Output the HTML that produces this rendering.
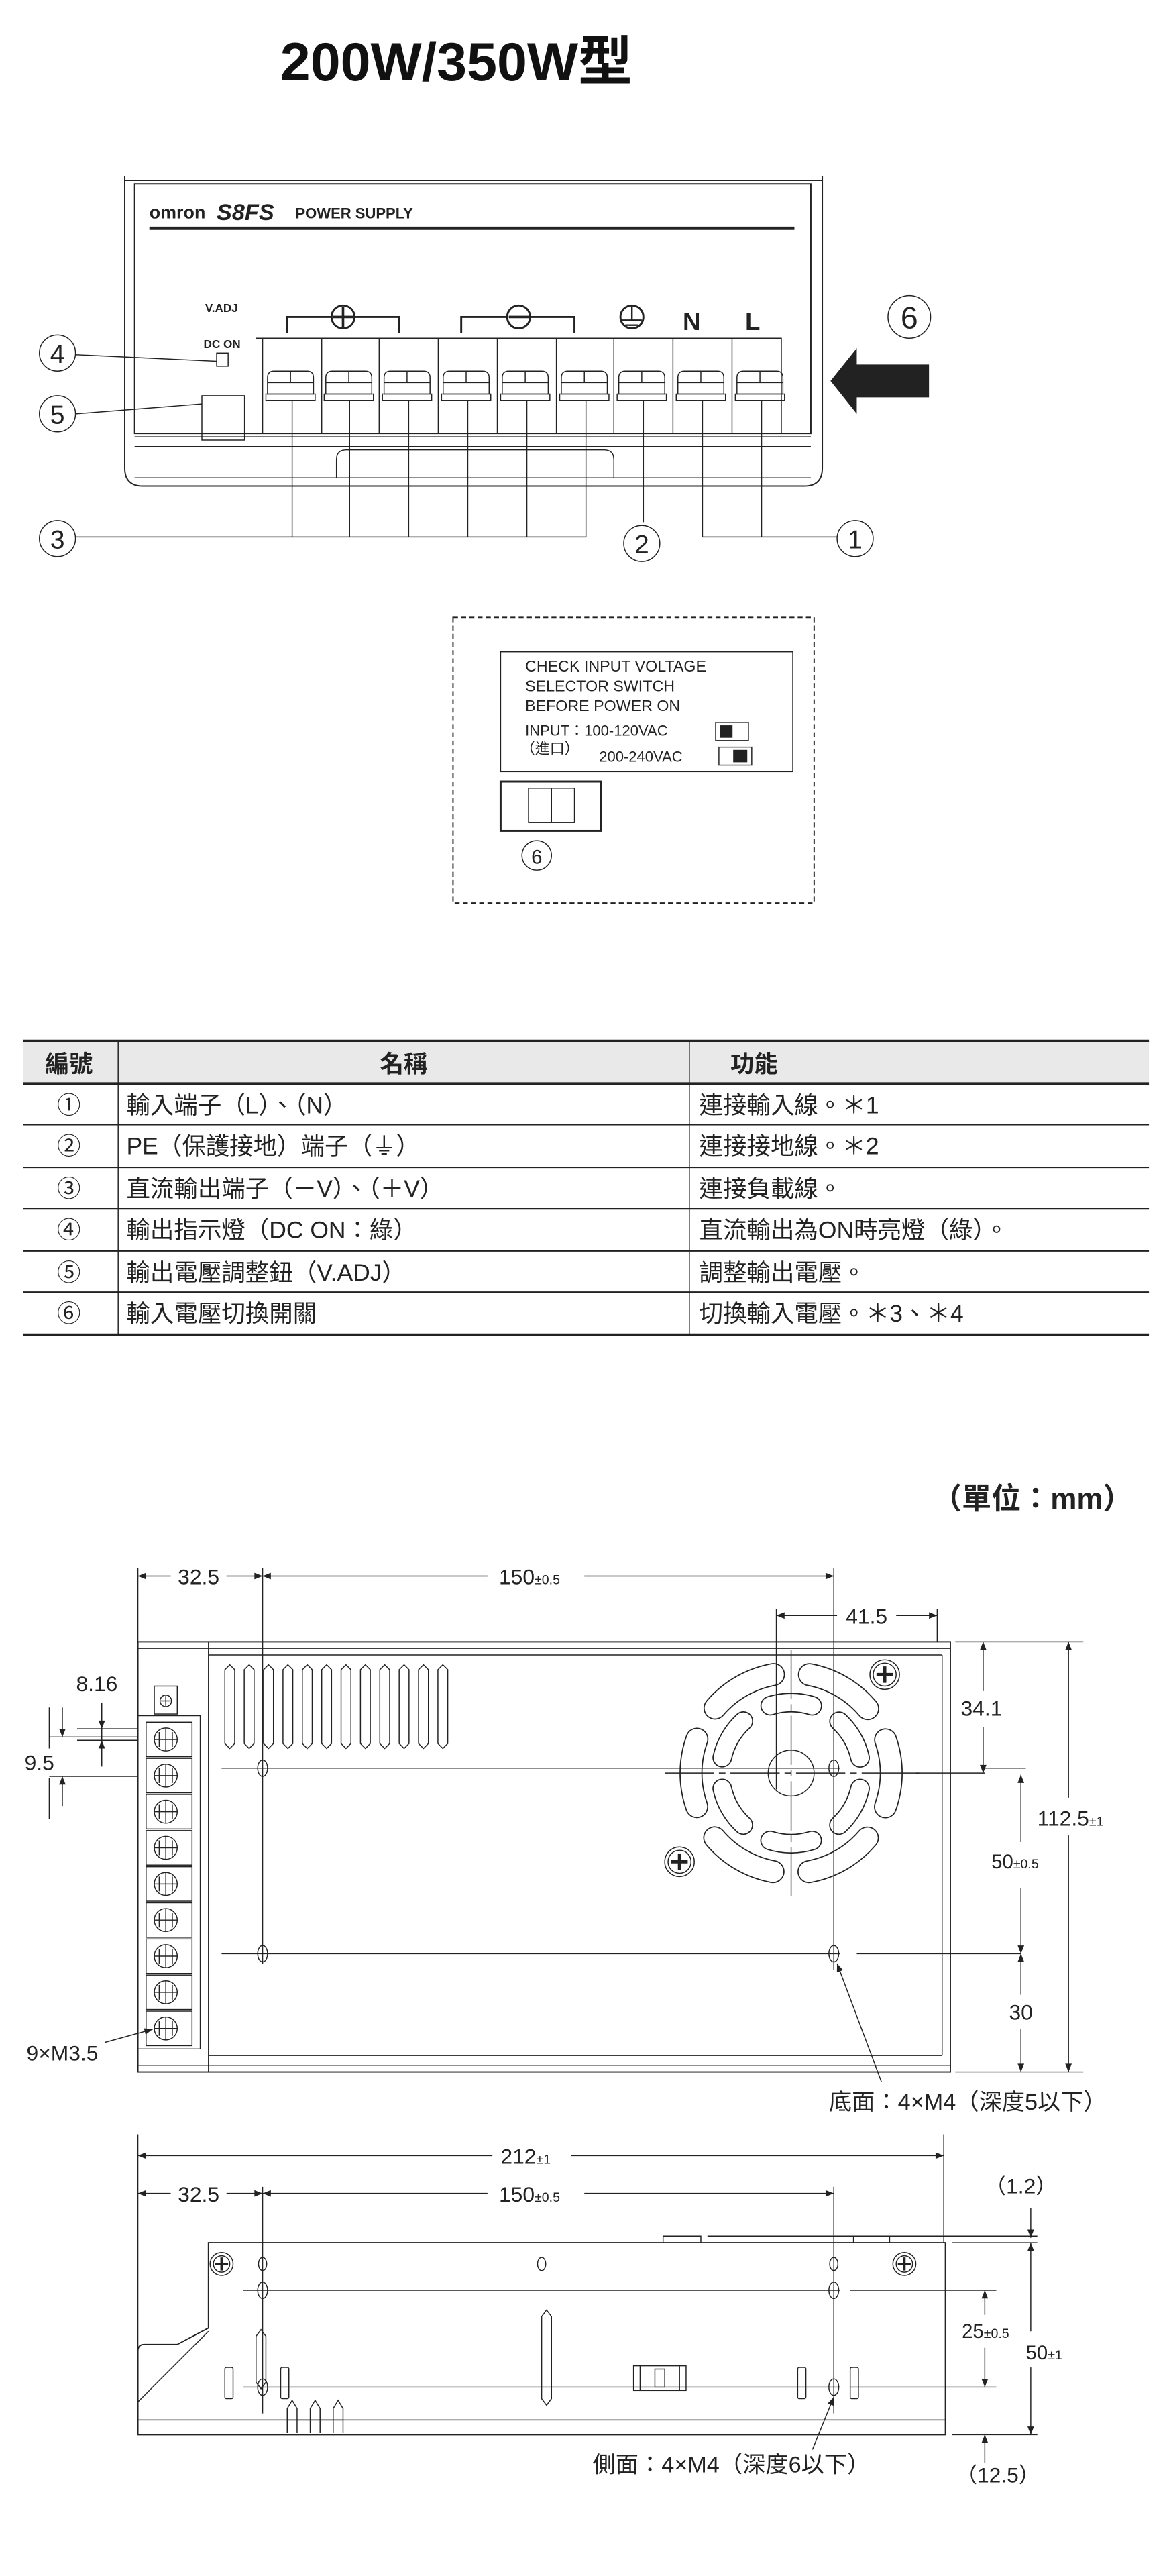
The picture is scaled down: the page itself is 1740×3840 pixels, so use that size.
<!DOCTYPE html>
<html><head><meta charset="utf-8">
<style>
html,body{margin:0;padding:0;background:#fff;}
svg{display:block;}
text{font-family:"Liberation Sans","Noto Sans CJK TC",sans-serif;fill:#222;}
</style></head>
<body>
<svg width="1740" height="3840" viewBox="0 0 711 1569" xmlns="http://www.w3.org/2000/svg">
<defs>
<marker id="a" viewBox="0 0 10 10" refX="10" refY="5" markerWidth="7" markerHeight="5" orient="auto-start-reverse" markerUnits="userSpaceOnUse"><path d="M0,1 L10,5 L0,9 z" fill="#222"/></marker>
</defs>
<g stroke="#222" fill="none" stroke-width="0.6">
<!-- Title -->
<text x="278" y="49" font-size="33" font-weight="bold" text-anchor="middle" stroke="none" style="fill:#111">200W/350W型</text>

<!-- Front panel -->
<path d="M76,107 V285 Q76,296 87,296 H490 Q501,296 501,285 V107" stroke-width="0.8"/>
<path d="M82,112 H494 V264 H82 Z" stroke-width="0.8"/>
<line x1="76" y1="110" x2="501" y2="110"/>
<path d="M82,266 H494 M82,272 H494"/>
<path d="M205,291 V280 Q205,274 211,274 H368 Q374,274 374,280 V291"/>
<path d="M82,291 H494"/>
<text x="91" y="133" font-size="11" font-weight="bold" stroke="none">omron</text>
<text x="132" y="134" font-size="14" font-weight="bold" font-style="italic" stroke="none">S8FS</text>
<text x="180" y="133" font-size="9" font-weight="bold" stroke="none">POWER SUPPLY</text>
<line x1="91" y1="139" x2="484" y2="139" stroke-width="2"/>
<text x="125" y="190" font-size="7" font-weight="bold" stroke="none">V.ADJ</text>
<text x="124" y="212" font-size="7" font-weight="bold" stroke="none">DC ON</text>
<rect x="132" y="215" width="7" height="8"/>
<rect x="123" y="241" width="26" height="27"/>
<path d="M175,203 V193 H243 V203 M281,203 V193 H350 V203" stroke-width="1.2"/>
<circle cx="209" cy="193" r="7" fill="#fff" stroke-width="1.2"/>
<path d="M209,187 V199 M203,193 H215" stroke-width="1.5"/>
<circle cx="316" cy="193" r="7" fill="#fff" stroke-width="1.2"/>
<path d="M310,193 H322" stroke-width="1.5"/>
<circle cx="385" cy="193" r="7" stroke-width="1.2"/>
<path d="M385,186 V195 M379,195 H391 M381,198 H389" stroke-width="1"/>
<text x="416" y="201" font-size="15" font-weight="bold" stroke="none">N</text>
<text x="454" y="201" font-size="15" font-weight="bold" stroke="none">L</text>
<g>
<path d="M156,206 H476 V264"/>
<path d="M160,206 V264 M196,206 V264 M231,206 V264 M267,206 V264 M303,206 V264 M339,206 V264 M374,206 V264 M410,206 V264 M446,206 V264 M476,206 V264"/>
</g>
<g id="t">
<path d="M163,240 V230 Q163,226 167,226 H187 Q191,226 191,230 V240 Z"/>
<path d="M163,233 H191 M177,226 V233"/>
<rect x="162" y="240" width="30" height="4"/>
</g>
<use href="#t" x="35.5"/><use href="#t" x="71"/><use href="#t" x="107"/><use href="#t" x="143"/><use href="#t" x="179"/><use href="#t" x="214"/><use href="#t" x="250"/><use href="#t" x="286"/>
<path d="M178,244 V327 M213,244 V327 M249,244 V327 M285,244 V327 M321,244 V327 M357,244 V327 M46,327 H357"/>
<path d="M392,244 V318 M428,244 V327 H510 M464,244 V327"/>
<path d="M46,216 L132,220 M46,252 L123,246"/>
<circle cx="35" cy="215" r="11"/><circle cx="35" cy="252" r="11"/><circle cx="35" cy="328" r="11"/>
<circle cx="391" cy="331" r="11"/><circle cx="521" cy="328" r="11"/><circle cx="554" cy="193" r="13"/>
<text x="35" y="221" font-size="16" text-anchor="middle" stroke="none">4</text>
<text x="35" y="258" font-size="16" text-anchor="middle" stroke="none">5</text>
<text x="35" y="334" font-size="16" text-anchor="middle" stroke="none">3</text>
<text x="391" y="337" font-size="16" text-anchor="middle" stroke="none">2</text>
<text x="521" y="334" font-size="16" text-anchor="middle" stroke="none">1</text>
<text x="554" y="200" font-size="19" text-anchor="middle" stroke="none">6</text>
<path d="M506,232 L522,212 V222 H566 V242 H522 V252 Z" fill="#222" stroke="none"/>

<!-- dashed box -->
<rect x="276" y="376" width="220" height="174" stroke-dasharray="3,2" stroke-width="0.8"/>
<rect x="305" y="397" width="178" height="73"/>
<text x="320" y="409" font-size="9.5" stroke="none">CHECK INPUT VOLTAGE</text>
<text x="320" y="421" font-size="9.5" stroke="none">SELECTOR SWITCH</text>
<text x="320" y="433" font-size="9.5" stroke="none">BEFORE POWER ON</text>
<text x="320" y="448" font-size="9" stroke="none">INPUT：100-120VAC</text>
<text x="317" y="459" font-size="9" stroke="none">（進口）</text>
<text x="365" y="464" font-size="9" stroke="none">200-240VAC</text>
<rect x="436" y="440" width="20" height="11"/><rect x="439" y="442" width="7" height="7" fill="#222"/>
<rect x="438" y="455" width="20" height="11"/><rect x="447" y="457" width="8" height="7" fill="#222"/>
<rect x="305" y="476" width="61" height="30" stroke-width="1.2"/>
<rect x="322" y="480" width="28" height="21"/>
<line x1="336" y1="480" x2="336" y2="501"/>
<circle cx="327" cy="521" r="9"/>
<text x="327" y="526" font-size="12" text-anchor="middle" stroke="none">6</text>

<!-- Table -->
<rect x="14" y="634" width="686" height="26" fill="#e9e9e9" stroke="none"/>
<line x1="14" y1="634" x2="700" y2="634" stroke-width="1.6"/>
<line x1="14" y1="660" x2="700" y2="660" stroke-width="1.6"/>
<path d="M14,685 H700 M14,711 H700 M14,736 H700 M14,762 H700 M14,787 H700" stroke-width="0.8"/>
<line x1="14" y1="813" x2="700" y2="813" stroke-width="1.6"/>
<path d="M72,634 V813 M420,634 V813" stroke-width="0.6"/>
<g stroke="none" font-size="14.5">
<text x="42" y="653" text-anchor="middle" font-weight="bold">編號</text>
<text x="246" y="653" text-anchor="middle" font-weight="bold">名稱</text>
<text x="445" y="653" font-weight="bold">功能</text>
<text x="42" y="678" text-anchor="middle">①</text>
<text x="42" y="703" text-anchor="middle">②</text>
<text x="42" y="729" text-anchor="middle">③</text>
<text x="42" y="754" text-anchor="middle">④</text>
<text x="42" y="780" text-anchor="middle">⑤</text>
<text x="42" y="805" text-anchor="middle">⑥</text>
<text x="77" y="678">輸入端子（L）、（N）</text>
<text x="77" y="703">PE（保護接地）端子（⏚）</text>
<text x="77" y="729">直流輸出端子（－V）、（＋V）</text>
<text x="77" y="754">輸出指示燈（DC ON：綠）</text>
<text x="77" y="780">輸出電壓調整鈕（V.ADJ）</text>
<text x="77" y="805">輸入電壓切換開關</text>
<text x="426" y="678">連接輸入線。＊1</text>
<text x="426" y="703">連接接地線。＊2</text>
<text x="426" y="729">連接負載線。</text>
<text x="426" y="754">直流輸出為ON時亮燈（綠）。</text>
<text x="426" y="780">調整輸出電壓。</text>
<text x="426" y="805">切換輸入電壓。＊3、＊4</text>
</g>
<text x="690" y="919" font-size="18" font-weight="bold" text-anchor="end" stroke="none">（單位：mm）</text>

<!-- Bottom view -->
<rect x="84" y="1000" width="495" height="262" stroke-width="0.8"/>
<path d="M84,1004 H579 M127,1008 H574 M127,1252 H574 M84,1258 H579 M127,1000 V1262 M574,1008 V1252"/>
<rect x="94" y="1027" width="14" height="17"/>
<circle cx="101" cy="1036" r="3.5"/><path d="M101,1033 V1039 M98,1036 H104"/>
<g id="bt"><rect x="89" y="1049" width="28" height="21"/><circle cx="101" cy="1059.5" r="7"/><path d="M94,1059.5 H108 M101,1052.5 V1066.5 M97,1055 V1064 M105,1055 V1064"/></g>
<use href="#bt" y="22"/><use href="#bt" y="44"/><use href="#bt" y="66"/><use href="#bt" y="88"/><use href="#bt" y="110"/><use href="#bt" y="132"/><use href="#bt" y="154"/><use href="#bt" y="176"/>
<path d="M84,1045 H122 V1248 H84"/>
<g id="v"><path d="M137,1017 L140,1014 L143,1017 V1062 L140,1065 L137,1062 Z"/></g>
<use href="#v" x="11.8"/><use href="#v" x="23.6"/><use href="#v" x="35.4"/><use href="#v" x="47.2"/><use href="#v" x="59"/><use href="#v" x="70.8"/><use href="#v" x="82.6"/><use href="#v" x="94.4"/><use href="#v" x="106.2"/><use href="#v" x="118"/><use href="#v" x="129.8"/>
<!-- fan -->
<circle cx="482" cy="1080" r="61" stroke="#222" stroke-width="14" stroke-linecap="round" stroke-dasharray="41.9 22" stroke-dashoffset="20.95"/>
<circle cx="482" cy="1080" r="61" stroke="#fff" stroke-width="12.6" stroke-linecap="round" stroke-dasharray="41.9 22" stroke-dashoffset="20.95"/>
<circle cx="482" cy="1080" r="43" stroke="#222" stroke-width="12" stroke-linecap="round" stroke-dasharray="26 19.03" stroke-dashoffset="-9.5"/>
<circle cx="482" cy="1080" r="43" stroke="#fff" stroke-width="10.6" stroke-linecap="round" stroke-dasharray="26 19.03" stroke-dashoffset="-9.5"/>
<circle cx="482" cy="1080" r="14"/>
<path d="M482,1005 V1155 M405,1080 H560" stroke-dasharray="30,3,4,3"/>
<circle cx="539" cy="1020" r="9"/><circle cx="539" cy="1020" r="7"/><path d="M539,1015 V1025 M534,1020 H544" stroke-width="2"/>
<circle cx="414" cy="1134" r="9"/><circle cx="414" cy="1134" r="7"/><path d="M414,1129 V1139 M409,1134 H419" stroke-width="2"/>
<ellipse cx="160" cy="1077" rx="3" ry="5"/><ellipse cx="508" cy="1077" rx="3" ry="5"/>
<ellipse cx="160" cy="1190" rx="3" ry="5"/><ellipse cx="508" cy="1190" rx="3" ry="5"/>
<path d="M135,1077 H512 M135,1190 H512 M522,1190 H622"/>
<path d="M555,1080 H600"/>
<path d="M84,955 V1000 M160,955 V1196 M508,955 V1200 M473,980 V1090 M571,980 V1000"/>
<line x1="84" y1="960" x2="104" y2="960" marker-start="url(#a)"/>
<line x1="138" y1="960" x2="160" y2="960" marker-end="url(#a)"/>
<text x="121" y="965" font-size="13" text-anchor="middle" stroke="none">32.5</text>
<line x1="160" y1="960" x2="297" y2="960" marker-start="url(#a)"/>
<line x1="356" y1="960" x2="508" y2="960" marker-end="url(#a)"/>
<text x="304" y="965" font-size="13" stroke="none">150<tspan font-size="8">±0.5</tspan></text>
<line x1="473" y1="984" x2="510" y2="984" marker-start="url(#a)"/>
<line x1="546" y1="984" x2="571" y2="984" marker-end="url(#a)"/>
<text x="528" y="989" font-size="13" text-anchor="middle" stroke="none">41.5</text>
<path d="M582,1000 H660 M582,1262 H660 M600,1077 H625"/>
<line x1="599" y1="1030" x2="599" y2="1000" marker-end="url(#a)"/>
<line x1="599" y1="1052" x2="599" y2="1080" marker-end="url(#a)"/>
<text x="598" y="1045" font-size="13" text-anchor="middle" stroke="none">34.1</text>
<line x1="622" y1="1122" x2="622" y2="1081" marker-end="url(#a)"/>
<line x1="622" y1="1150" x2="622" y2="1190" marker-end="url(#a)"/>
<text x="604" y="1138" font-size="12" stroke="none">50<tspan font-size="8">±0.5</tspan></text>
<line x1="622" y1="1215" x2="622" y2="1190" marker-end="url(#a)"/>
<line x1="622" y1="1236" x2="622" y2="1262" marker-end="url(#a)"/>
<text x="622" y="1230" font-size="13" text-anchor="middle" stroke="none">30</text>
<line x1="651" y1="1095" x2="651" y2="1000" marker-end="url(#a)"/>
<line x1="651" y1="1118" x2="651" y2="1262" marker-end="url(#a)"/>
<text x="632" y="1112" font-size="13" stroke="none">112.5<tspan font-size="8">±1</tspan></text>
<path d="M30,1040 V1065 M30,1083 V1108 M30,1058 H84 M30,1082 H84 M47,1053 H84 M47,1060 H84"/>
<line x1="62" y1="1037" x2="62" y2="1053" marker-end="url(#a)"/>
<line x1="62" y1="1076" x2="62" y2="1060" marker-end="url(#a)"/>
<line x1="62" y1="1053" x2="62" y2="1060"/>
<text x="59" y="1030" font-size="13" text-anchor="middle" stroke="none">8.16</text>
<line x1="38" y1="1040" x2="38" y2="1058" marker-end="url(#a)"/>
<line x1="38" y1="1100" x2="38" y2="1082" marker-end="url(#a)"/>
<text x="24" y="1078" font-size="13" text-anchor="middle" stroke="none">9.5</text>
<line x1="64" y1="1244" x2="93" y2="1236" marker-end="url(#a)"/>
<text x="38" y="1255" font-size="13" text-anchor="middle" stroke="none">9×M3.5</text>
<line x1="537" y1="1268" x2="510" y2="1196" marker-end="url(#a)"/>
<text x="505" y="1285" font-size="14" stroke="none">底面：4×M4（深度5以下）</text>

<!-- Side view -->
<path d="M84,1300 V1483 M575,1300 V1366"/>
<line x1="84" y1="1313" x2="300" y2="1313" marker-start="url(#a)"/>
<line x1="348" y1="1313" x2="575" y2="1313" marker-end="url(#a)"/>
<text x="305" y="1318" font-size="13" stroke="none">212<tspan font-size="8">±1</tspan></text>
<path d="M160,1332 V1470 M508,1332 V1470"/>
<line x1="84" y1="1336" x2="104" y2="1336" marker-start="url(#a)"/>
<line x1="138" y1="1336" x2="160" y2="1336" marker-end="url(#a)"/>
<text x="121" y="1341" font-size="13" text-anchor="middle" stroke="none">32.5</text>
<line x1="160" y1="1336" x2="297" y2="1336" marker-start="url(#a)"/>
<line x1="356" y1="1336" x2="508" y2="1336" marker-end="url(#a)"/>
<text x="304" y="1341" font-size="13" stroke="none">150<tspan font-size="8">±0.5</tspan></text>
<path d="M127,1366 H576 V1483 H84 V1432 Q84,1428 88,1428 H108 L127,1418 Z" stroke-width="0.8"/>
<path d="M127,1420 L84,1463"/>
<path d="M84,1474 H576"/>
<path d="M404,1366 V1362 H427 V1366 M520,1366 V1362 H542 V1366 M431,1362 H632 M580,1366 H632"/>
<circle cx="135" cy="1379" r="7"/><circle cx="135" cy="1379" r="5"/><path d="M135,1375 V1383 M131,1379 H139" stroke-width="1.5"/>
<circle cx="551" cy="1379" r="7"/><circle cx="551" cy="1379" r="5"/><path d="M551,1375 V1383 M547,1379 H555" stroke-width="1.5"/>
<ellipse cx="160" cy="1379" rx="2.5" ry="4"/><ellipse cx="330" cy="1379" rx="2.5" ry="4"/><ellipse cx="508" cy="1379" rx="2.5" ry="4"/>
<ellipse cx="160" cy="1395" rx="3" ry="5"/><ellipse cx="508" cy="1395" rx="3" ry="5"/>
<ellipse cx="160" cy="1454" rx="3" ry="5"/><ellipse cx="508" cy="1454" rx="3" ry="5"/>
<path d="M148,1395 H512 M518,1395 H607 M148,1454 H512 M518,1454 H607"/>
<path d="M330,1411 L333,1407 L336,1411 V1461 L333,1465 L330,1461 Z"/>
<path d="M156,1423 L159,1419 L162,1423 V1451 L159,1455 L156,1451 Z"/>
<rect x="137" y="1442" width="5" height="19" rx="1"/><rect x="171" y="1442" width="5" height="19" rx="1"/>
<rect x="486" y="1442" width="5" height="19" rx="1"/><rect x="518" y="1442" width="5" height="19" rx="1"/>
<rect x="386" y="1441" width="32" height="15"/><path d="M390,1441 V1456 M414,1441 V1456 M399,1443 H405 V1454 H399 Z"/>
<path d="M175,1482 V1467 L178,1462 L181,1467 V1482 M189,1482 V1467 L192,1462 L195,1467 V1482 M203,1482 V1467 L206,1462 L209,1467 V1482 M175,1474 H209"/>
<line x1="628" y1="1345" x2="628" y2="1363" marker-end="url(#a)"/>
<text x="622" y="1336" font-size="13" text-anchor="middle" stroke="none">（1.2）</text>
<line x1="628" y1="1420" x2="628" y2="1366" marker-end="url(#a)"/>
<line x1="628" y1="1442" x2="628" y2="1483" marker-end="url(#a)"/>
<text x="625" y="1437" font-size="12" stroke="none">50<tspan font-size="8">±1</tspan></text>
<line x1="600" y1="1410" x2="600" y2="1395" marker-end="url(#a)"/>
<line x1="600" y1="1430" x2="600" y2="1454" marker-end="url(#a)"/>
<text x="586" y="1424" font-size="12" stroke="none">25<tspan font-size="8">±0.5</tspan></text>
<path d="M580,1483 H632"/>
<line x1="600" y1="1500" x2="600" y2="1483" marker-end="url(#a)"/>
<text x="608" y="1512" font-size="13" text-anchor="middle" stroke="none">（12.5）</text>
<line x1="495" y1="1492" x2="508" y2="1460" marker-end="url(#a)"/>
<text x="361" y="1506" font-size="14" stroke="none">側面：4×M4（深度6以下）</text>
</g>
</svg>
</body></html>
